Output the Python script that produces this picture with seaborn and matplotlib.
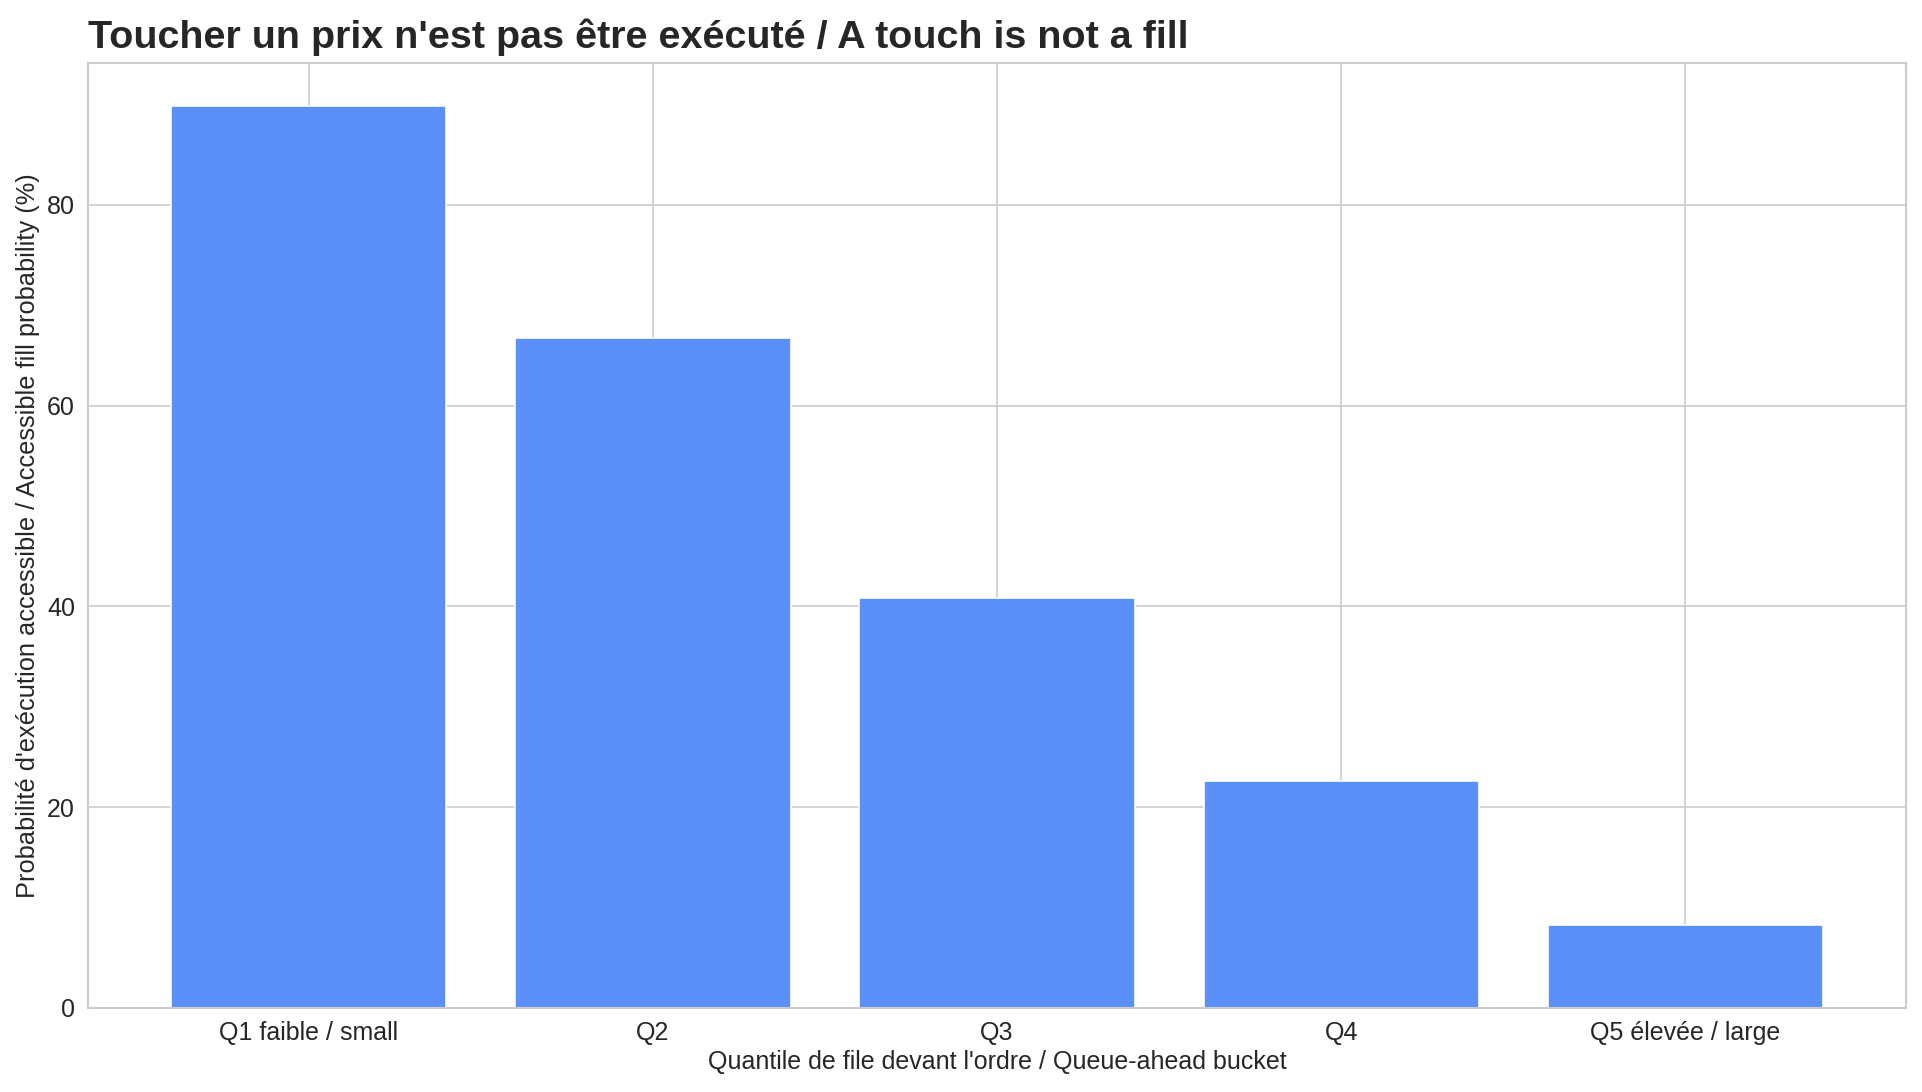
import matplotlib
matplotlib.use("Agg")
import matplotlib.pyplot as plt
import seaborn as sns
import pandas as pd

buckets = ["Q1 faible / small", "Q2", "Q3", "Q4", "Q5 élevée / large"]
fill_prob = [89.8, 66.7, 40.8, 22.6, 8.3]

sns.set_theme(style="whitegrid")
plt.rcParams["font.family"] = ["Liberation Sans", "DejaVu Sans"]
plt.rcParams["axes.edgecolor"] = "#cccccc"
plt.rcParams["grid.color"] = "#cccccc"

df = pd.DataFrame({"bucket": buckets, "prob": fill_prob})

fig, ax = plt.subplots(figsize=(16.025, 9.1), dpi=120)
sns.barplot(data=df, x="bucket", y="prob", color="#5B8FF9", saturation=1, width=0.8, ax=ax)
ax.set_xlim(-0.64, 4.64)
ax.set_ylim(0, 94.1)
ax.set_yticks([0, 20, 40, 60, 80])
ax.grid(True, axis="both")
ax.set_axisbelow(True)
ax.tick_params(labelsize=15, pad=2, labelcolor="#262626")
ax.set_title("Toucher un prix n'est pas être exécuté / A touch is not a fill",
             loc="left", fontsize=23.7, fontweight="bold", color="#262626", pad=9)
ax.set_xlabel("Quantile de file devant l'ordre / Queue-ahead bucket", fontsize=15,
              labelpad=3, color="#262626")
ax.set_ylabel("Probabilité d'exécution accessible / Accessible fill probability (%)",
              fontsize=15.2, color="#262626")

fig.subplots_adjust(left=0.046, right=0.991, top=0.942, bottom=0.077)
fig.savefig("out.png", dpi=120)
